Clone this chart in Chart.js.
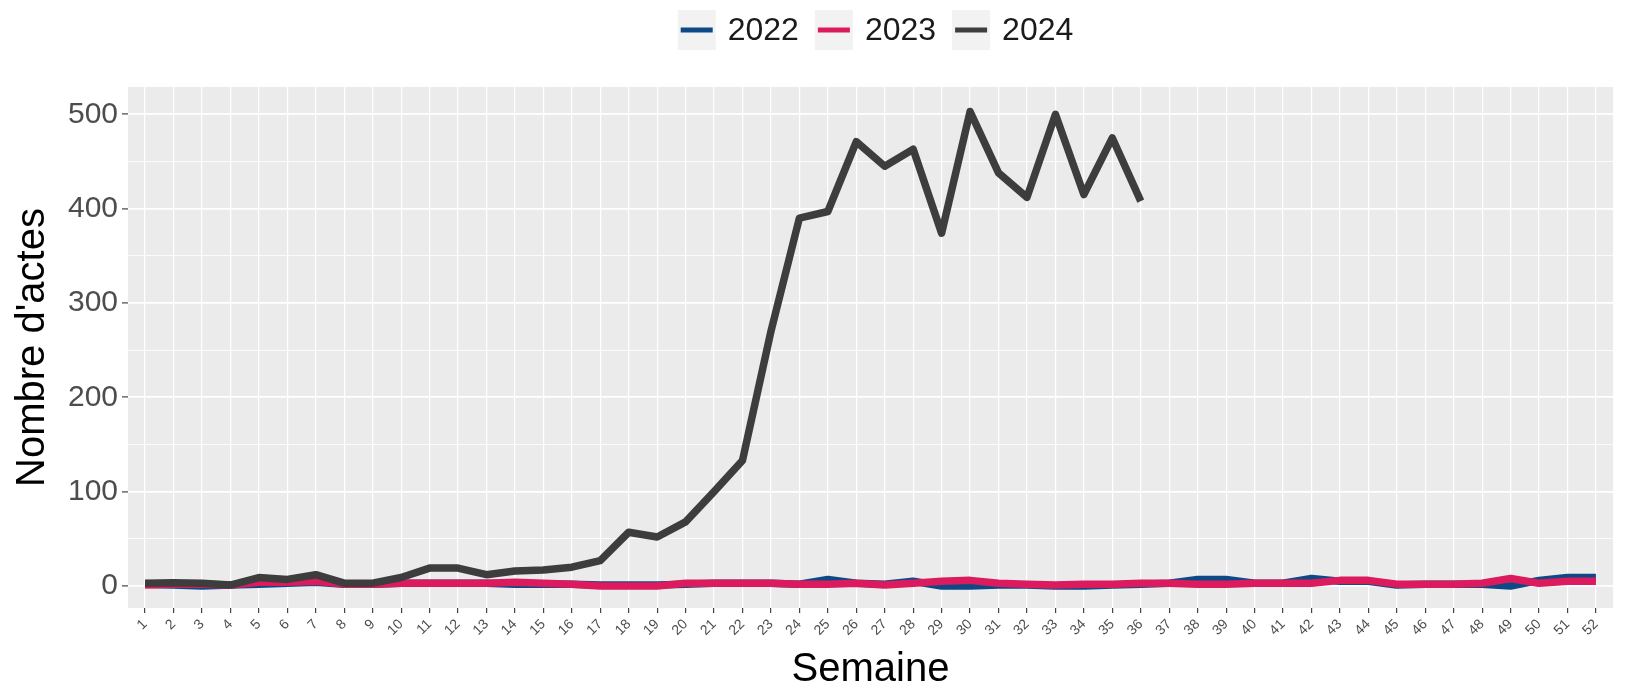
<!DOCTYPE html>
<html>
<head>
<meta charset="utf-8">
<script src="https://cdn.jsdelivr.net/npm/chart.js@4.4.1/dist/chart.umd.min.js"></script>
<style>
  html, body { margin: 0; padding: 0; background: #ffffff; }
  #wrap { width: 1628px; height: 690px; position: relative; }
</style>
</head>
<body>
<div id="wrap"><canvas id="weekChart"></canvas></div>
<script>
const weeks = [];
for (let w = 1; w <= 52; w++) weeks.push(w);

const yTicks = [0, 100, 200, 300, 400, 500];
const seriesNames = ["2022", "2023", "2024"];

const values2022 = [2, 1, 0, 1, 2, 3, 4, 2, 2, 3, 3, 3, 3, 2, 2, 2, 1, 1, 1, 2,
  3, 3, 3, 2, 7, 3, 2, 5, 0, 0, 1, 1, 0, 0, 1, 2, 3, 7, 7, 3,
  3, 8, 5, 5, 1, 2, 2, 2, 0, 6, 9, 9];
const values2023 = [1, 2, 2, 1, 4, 4, 5, 2, 2, 3, 3, 3, 3, 4, 3, 2, 0, 0, 0, 3,
  3, 3, 3, 2, 2, 3, 1, 3, 5, 6, 3, 2, 1, 2, 2, 3, 3, 2, 2, 3,
  3, 3, 6, 6, 2, 2, 2, 3, 8, 3, 5, 5];
const values2024 = [3, 3.5, 3, 1, 9, 7, 12, 3, 3, 9, 19, 19, 12, 16, 17, 20, 27, 57, 52, 68,
  100, 133, 270, 390, 397, 471, 445, 463, 374, 503, 438, 412, 500, 415, 475, 408,
  null, null, null, null, null, null, null, null, null, null, null, null, null, null, null, null];

const colors = ["#0d4a85", "#dc1a5e", "#3d3d3d"];

// legende facon ggplot : fond gris + trait
const legendPlugin = {
  id: "ggLegend",
  afterDraw(chart) {
    const ctx = chart.ctx;
    ctx.save();
    ctx.font = "32px 'Liberation Sans', Arial, sans-serif";
    const keyW = 38, keyH = 40, gap = 12, sep = 16;
    const widths = seriesNames.map(n => ctx.measureText(n).width);
    let total = 0;
    widths.forEach((w, i) => { total += keyW + gap + w + (i < widths.length - 1 ? sep : 0); });
    const centre = (chart.chartArea.left + chart.chartArea.right) / 2 + 5;
    let x = centre - total / 2;
    const top = 10;
    seriesNames.forEach((name, i) => {
      ctx.fillStyle = "#f2f2f2";
      ctx.fillRect(x, top, keyW, keyH);
      ctx.strokeStyle = colors[i];
      ctx.lineWidth = 5;
      ctx.beginPath();
      ctx.moveTo(x + 3, top + keyH / 2);
      ctx.lineTo(x + keyW - 3, top + keyH / 2);
      ctx.stroke();
      ctx.fillStyle = "#1a1a1a";
      ctx.textBaseline = "middle";
      ctx.textAlign = "left";
      ctx.fillText(name, x + keyW + gap, top + keyH / 2 + 1);
      x += keyW + gap + widths[i] + sep;
    });
    ctx.restore();
  }
};

const panelPlugin = {
  id: "panelBg",
  beforeDraw(chart) {
    const a = chart.chartArea;
    const ctx = chart.ctx;
    ctx.save();
    ctx.fillStyle = "#ebebeb";
    ctx.fillRect(a.left, a.top, a.right - a.left, a.bottom - a.top);
    ctx.restore();
  }
};

const ctx = document.getElementById("weekChart").getContext("2d");
new Chart(ctx, {
  type: "line",
  data: {
    labels: weeks,
    datasets: [
      { label: seriesNames[0], data: values2022, borderColor: colors[0], order: 3 },
      { label: seriesNames[1], data: values2023, borderColor: colors[1], order: 2 },
      { label: seriesNames[2], data: values2024, borderColor: colors[2], order: 1 },
    ],
  },
  options: {
    responsive: true,
    maintainAspectRatio: false,
    animation: false,
    layout: { padding: { top: 87, right: 15, left: 0, bottom: 0 } },
    elements: {
      line: { borderWidth: 7.5, tension: 0, borderJoinStyle: "round", borderCapStyle: "butt" },
      point: { radius: 0, hoverRadius: 0 },
    },
    plugins: {
      legend: { display: false },
      tooltip: { enabled: false },
    },
    scales: {
      x: {
        type: "linear",
        min: 0.4,
        max: 52.6,
        afterBuildTicks: (s) => { s.ticks = weeks.map(v => ({ value: v })); },
        afterFit: (s) => { s.height = 82; },
        border: { display: false },
        grid: { color: "#ffffff", lineWidth: 1.2, tickColor: "#444444", tickLength: 5, tickWidth: 1.2 },
        ticks: {
          autoSkip: false,
          minRotation: 45,
          maxRotation: 45,
          padding: 3,
          color: "#4d4d4d",
          font: { family: "'Liberation Sans', Arial, sans-serif", size: 14 },
          callback: (v) => String(v),
        },
        title: {
          display: true,
          text: "Semaine",
          color: "#000000",
          padding: { top: 0, bottom: 0 },
          font: { family: "'Liberation Sans', Arial, sans-serif", size: 40, lineHeight: 1.0 },
        },
      },
      y: {
        min: -23.3,
        max: 529,
        afterBuildTicks: (s) => {
          const t = [];
          for (let v = 0; v <= 500; v += 50) t.push({ value: v });
          s.ticks = t;
        },
        afterFit: (s) => { s.width = 128; },
        border: { display: false },
        grid: {
          color: "#ffffff",
          lineWidth: (c) => (c.tick && c.tick.value % 100 === 0 ? 1.8 : 0.8),
          tickColor: (c) => (c.tick && c.tick.value % 100 === 0 ? "#444444" : "rgba(0,0,0,0)"),
          tickLength: 6,
          tickWidth: 1.2,
        },
        ticks: {
          padding: 4,
          color: "#4d4d4d",
          font: { family: "'Liberation Sans', Arial, sans-serif", size: 30 },
          callback: (v) => (yTicks.includes(v) ? String(v) : ""),
        },
        title: {
          display: true,
          text: "Nombre d'actes",
          color: "#000000",
          padding: { top: 13, bottom: 0 },
          font: { family: "'Liberation Sans', Arial, sans-serif", size: 40, lineHeight: 1.0 },
        },
      },
    },
  },
  plugins: [panelPlugin, legendPlugin],
});
</script>
</body>
</html>
